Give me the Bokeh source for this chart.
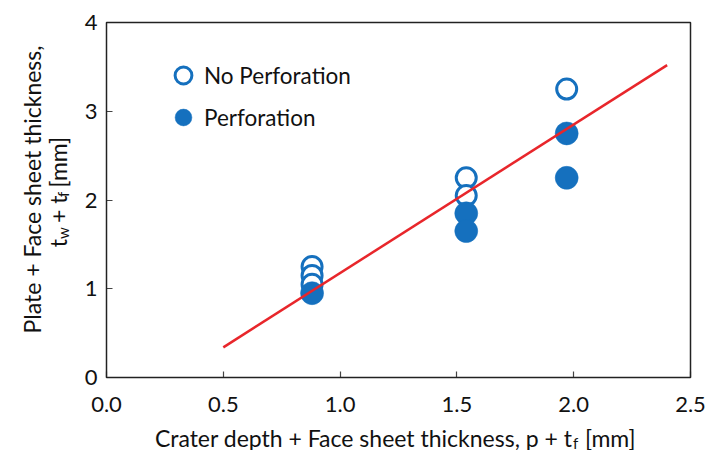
from math import pi
from bokeh.plotting import figure
from bokeh.models import (Label, Legend, LegendItem, FixedTicker, NumeralTickFormatter,
                          LinearAxis, BoxAnnotation, Range1d)
from bokeh.embed import file_html
from bokeh.resources import INLINE

# ---- data ----
x_no_perf = [0.88, 0.88, 0.88, 1.54, 1.54, 1.97]
y_no_perf = [1.25, 1.15, 1.05, 2.25, 2.05, 3.25]
x_perf = [0.88, 1.54, 1.54, 1.97, 1.97]
y_perf = [0.95, 1.85, 1.65, 2.75, 2.25]
fit_x = [0.5, 2.4]
fit_y = [0.34, 3.52]
x_ticks = [0.0, 0.5, 1.0, 1.5, 2.0, 2.5]
y_ticks = [0, 1, 2, 3, 4]
X0, X1, Y0, Y1 = 0.0, 2.5, 0.0, 4.0

# ---- layout (pixels) ----
W, H = 710, 450
L, R, T, B = 106, 20, 22, 73
FONT = "Lato"
BLUE = "#1570BE"
RED = "#E8262B"
TXT = "#111111"
TF = 23   # title font size
SF = 15   # subscript size

KX = (W - L - R) / (X1 - X0)
KY = (H - T - B) / (Y1 - Y0)


def dx(px):
    return X0 + (px - L) / KX


def dy(py):
    return Y0 + (H - B - py) / KY


p = figure(width=W, height=H,
           x_range=Range1d(dx(0), dx(W)), y_range=Range1d(dy(H), dy(0)),
           output_backend="svg", toolbar_location=None,
           x_axis_location=None, y_axis_location=None,
           min_border_left=0, min_border_right=0, min_border_top=0, min_border_bottom=0)
p.background_fill_color = "white"
p.border_fill_color = "white"
p.outline_line_color = None
p.xgrid.visible = False
p.ygrid.visible = False

xaxis = LinearAxis(fixed_location=Y0, ticker=FixedTicker(ticks=x_ticks),
                   formatter=NumeralTickFormatter(format="0.0"))
yaxis = LinearAxis(fixed_location=X0, ticker=FixedTicker(ticks=y_ticks))
for ax in (xaxis, yaxis):
    ax.axis_line_color = None
    ax.minor_tick_line_color = None
    ax.major_tick_out = 0
    ax.major_tick_in = 6
    ax.major_tick_line_color = "#444444"
    ax.major_tick_line_width = 1.2
    ax.major_label_text_font = FONT
    ax.major_label_text_font_size = "22px"
    ax.major_label_text_color = TXT
xaxis.major_label_standoff = 19
yaxis.major_label_standoff = 9
p.add_layout(xaxis, "below")
p.add_layout(yaxis, "left")

# plot-area frame
p.add_layout(BoxAnnotation(left=X0, right=X1, bottom=Y0, top=Y1, fill_alpha=0,
                           line_color="#222222", line_width=1.5, line_alpha=1))

r_open = p.scatter(x_no_perf, y_no_perf, size=20, marker="circle",
                   fill_color="white", line_color=BLUE, line_width=3)
r_fill = p.scatter(x_perf, y_perf, size=23, marker="circle",
                   fill_color=BLUE, line_color=BLUE, line_width=0.5)
p.line(fit_x, fit_y, line_color=RED, line_width=2.5)

GL = 42  # legend glyph box
leg_cx, leg_top = 183, 54
legend = Legend(items=[LegendItem(label="No Perforation", renderers=[r_open]),
                       LegendItem(label="Perforation", renderers=[r_fill])],
                location=(leg_cx - GL // 2, H - (leg_top + 2 * GL)),
                glyph_width=GL, glyph_height=GL, spacing=0,
                padding=0, margin=0, label_standoff=0,
                border_line_color=None, background_fill_alpha=0,
                label_text_font=FONT, label_text_font_size="22.5px",
                label_text_color=TXT, label_text_baseline="middle")
p.add_layout(legend, "center")


def lab(px, py, text, size=TF, align="left", baseline="middle", angle=0.0):
    p.add_layout(Label(x=dx(px), y=dy(py), text=text, text_font=FONT,
                       text_font_size=f"{size}px", text_color=TXT,
                       text_align=align, text_baseline=baseline, angle=angle))


em = {"t": 0.36, "w": 0.78, " ": 0.19, "+": 0.58, "f": 0.34, "[": 0.30, "m": 0.87, "]": 0.30}


def wid(s, size):
    return sum(em.get(c, 0.5) for c in s) * size


GAP = em[" "] * TF

# x-axis title: "Crater depth + Face sheet thickness, p + t_f [mm]"
xa, ya = 572, 437
lab(xa, ya, "Crater depth + Face sheet thickness, p + t", align="right")
lab(xa + 0.5, ya + 5, "f", size=SF)
lab(xa + 3 + wid("f", SF) + GAP, ya, "[mm]")

# y-axis title (rotated), line 1
lab(31, 189, "Plate + Face sheet thickness,", align="center", angle=pi / 2)
# line 2, built bottom -> top
run = [("t", TF, 0, 0), ("w", SF, 5, GAP), ("+ t", TF, 0, 0), ("f", SF, 5, GAP), ("[mm]", TF, 0, 0)]
total = sum(wid(s, sz) + g for s, sz, _, g in run)
ypos = 190 + total / 2
for s, sz, sh, g in run:
    lab(57 + sh, ypos, s, size=sz, angle=pi / 2)
    ypos -= wid(s, sz) + g

open("out.html", "w").write(file_html(p, INLINE))
